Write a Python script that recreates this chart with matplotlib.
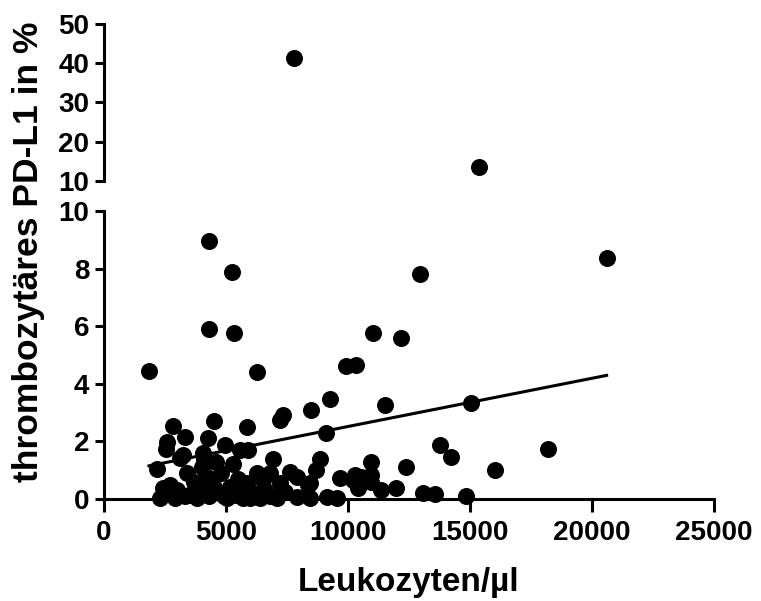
import numpy as np
import matplotlib
matplotlib.use("Agg")
import matplotlib.pyplot as plt

# Leukozyten/µl und thrombozytäres PD-L1 (%) je Patient
leukozyten = [
    7781, 15356, 4312, 5242, 12968, 20598, 4312, 5323, 11028, 12190,
    1843, 6252, 9938, 10319, 9255, 8477, 11507, 15057, 7342, 7207,
    9091, 5843, 4504, 2813, 3317, 2590, 2540, 4271, 4955, 13759,
    14237, 18194, 16011, 14851, 10962, 12396, 13076, 13554, 11986, 10348,
    10962, 10962, 11371, 10414, 2158, 2430, 3112, 4066, 5909, 5569,
    6933, 8845, 8708, 7617, 6798, 6253, 9664, 10209, 8366, 2290,
    2900, 3235, 3500, 3700, 3900, 4000, 4200, 4300, 4450, 4600,
    4700, 4800, 5024, 5160, 5300, 5500, 5706, 5843, 6100, 6388,
    6523, 7071, 7207, 7890, 7890, 8436, 8436, 9120, 9530, 10278,
    10553, 3400, 2700, 3000, 4100, 6600, 7400, 3300, 3800, 4400,
    4900, 5400, 6000, 6800,
]
pdl1 = [
    41.4, 13.6, 8.96, 7.89, 7.81, 8.37, 5.91, 5.78, 5.78, 5.58,
    4.44, 4.42, 4.63, 4.65, 3.46, 3.10, 3.27, 3.35, 2.90, 2.74,
    2.28, 2.50, 2.72, 2.53, 2.15, 1.98, 1.72, 2.11, 1.88, 1.88,
    1.47, 1.73, 1.01, 0.12, 1.30, 1.12, 0.20, 0.16, 0.37, 0.78,
    0.83, 0.60, 0.31, 0.37, 1.04, 0.37, 1.41, 1.59, 1.70, 1.70,
    1.38, 1.38, 1.01, 0.95, 0.89, 0.89, 0.72, 0.66, 0.49, 0.05,
    0.02, 1.53, 0.15, 0.60, 0.30, 1.10, 0.80, 0.10, 0.50, 1.30,
    0.25, 0.90, 0.05, 0.43, 1.20, 0.70, 0.05, 0.54, 0.20, 0.05,
    0.66, 0.05, 0.54, 0.77, 0.08, 0.03, 0.54, 0.08, 0.03, 0.83,
    0.77, 0.90, 0.50, 0.30, 1.40, 0.30, 0.25, 0.10, 0.05, 0.20,
    0.10, 0.15, 0.05, 0.10,
]

x_ticks = [0, 5000, 10000, 15000, 20000, 25000]
y_ticks_unten = [0, 2, 4, 6, 8, 10]
y_ticks_oben = [10, 20, 30, 40, 50]

x = np.array(leukozyten, dtype=float)
y = np.array(pdl1, dtype=float)

plt.rcParams['font.family'] = ['Liberation Sans', 'DejaVu Sans']
plt.rcParams['font.weight'] = 'bold'

W, H = 761, 601
fig = plt.figure(figsize=(W / 100, H / 100), dpi=100)

x0, x1 = 104, 714
ax_unten = fig.add_axes([x0 / W, (H - 499) / H, (x1 - x0) / W, (499 - 211) / H])
ax_oben = fig.add_axes([x0 / W, (H - 181) / H, (x1 - x0) / W, (181 - 24) / H])

lw = 2.2
for ax in (ax_unten, ax_oben):
    for s in ('top', 'right'):
        ax.spines[s].set_visible(False)
    for s in ('left', 'bottom'):
        ax.spines[s].set_linewidth(lw)
    ax.tick_params(width=lw, length=6.5, labelsize=20, pad=4, direction='out')
    ax.set_xlim(0, 25000)
ax_unten.tick_params(axis='x', length=9, pad=6)

# unterer Bereich 0-10
unten = y <= 10
ax_unten.set_ylim(0, 10)
ax_unten.set_yticks(y_ticks_unten)
ax_unten.set_xticks(x_ticks)
ax_unten.scatter(x[unten], y[unten], s=150, color='black', linewidths=0, clip_on=False, zorder=3)

# lineare Regression über alle Werte
k, d = np.polyfit(x, y, 1)
xs = np.array([x.min(), x.max()])
ax_unten.plot(xs, k * xs + d, color='black', linewidth=lw, zorder=2)

# oberer Bereich 10-50
oben = y > 10
ax_oben.set_ylim(10, 50)
ax_oben.set_yticks(y_ticks_oben)
ax_oben.spines['bottom'].set_visible(False)
ax_oben.tick_params(axis='x', bottom=False, labelbottom=False)
ax_oben.scatter(x[oben], y[oben], s=150, color='black', linewidths=0, clip_on=False, zorder=3)

fig.text(0.038, (H - 252) / H, 'thrombozytäres PD-L1 in %', rotation=90,
         ha='center', va='center', fontsize=25.5)
fig.text(409 / W, (H - 582) / H, 'Leukozyten/µl', ha='center', va='center', fontsize=24)

fig.savefig('out.png', dpi=100)
